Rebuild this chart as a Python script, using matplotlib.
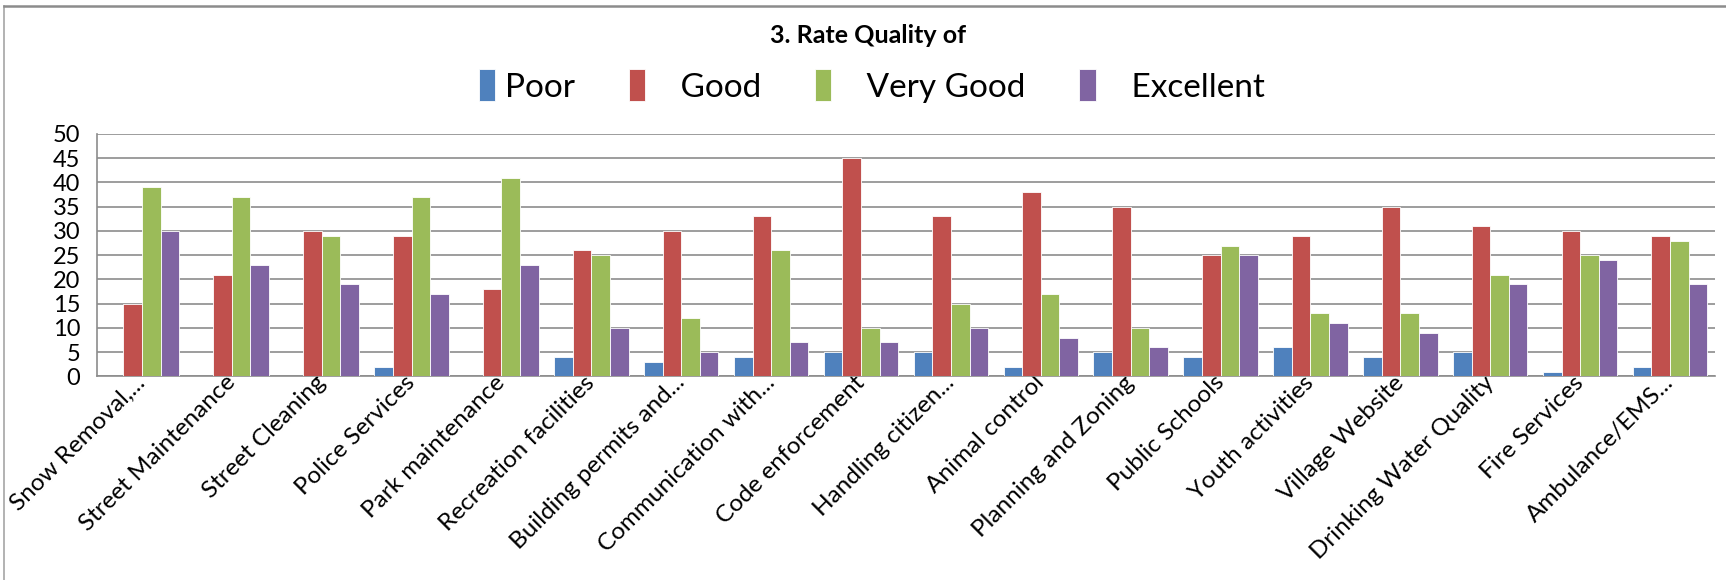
import numpy as np
import matplotlib
matplotlib.use('Agg')
import matplotlib.pyplot as plt
from matplotlib.lines import Line2D

plt.rcParams['font.family'] = ['Lato', 'DejaVu Sans']

# services rated
services = ['Snow Removal,...', 'Street Maintenance', 'Street Cleaning',
            'Police Services', 'Park maintenance', 'Recreation facilities',
            'Building permits and...', 'Communication with...',
            'Code enforcement', 'Handling citizen...', 'Animal control',
            'Planning and Zoning', 'Public Schools', 'Youth activities',
            'Village Website', 'Drinking Water Quality', 'Fire Services',
            'Ambulance/EMS...']

poor = [0, 0, 0, 2, 0, 4, 3, 4, 5, 5, 2, 5, 4, 6, 4, 5, 1, 2]
good = [15, 21, 30, 29, 18, 26, 30, 33, 45, 33, 38, 35, 25, 29, 35, 31, 30, 29]
very_good = [39, 37, 29, 37, 41, 25, 12, 26, 10, 15, 17, 10, 27, 13, 13, 21, 25, 28]
excellent = [30, 23, 19, 17, 23, 10, 5, 7, 7, 10, 8, 6, 25, 11, 9, 19, 24, 19]

series_names = ['Poor', '   Good', '   Very Good', '   Excellent']
series_colors = ['#4F81BD', '#C0504D', '#9BBB59', '#8064A2']
y_ticks = list(range(0, 51, 5))

fig = plt.figure(figsize=(17.26, 5.8), dpi=100)
ax = fig.add_axes([0.0562, 0.351, 0.9374, 0.418])

x = np.arange(len(services))
w = 0.207
for i, (vals, name, col) in enumerate(zip([poor, good, very_good, excellent],
                                          series_names, series_colors)):
    ax.bar(x + (i - 1.5) * w, vals, w, color=col, label=name,
           edgecolor='white', linewidth=0.6, zorder=3)

ax.set_xlim(-0.5, len(services) - 0.5)
ax.set_ylim(0, 50)
ax.set_yticks(y_ticks)
ax.yaxis.grid(True, color='#8C8C8C', linewidth=1.2, zorder=0)
ax.set_axisbelow(True)

for s in ['top', 'right']:
    ax.spines[s].set_visible(False)
ax.spines['left'].set_color('#8C8C8C')
ax.spines['bottom'].set_color('#8C8C8C')
ax.spines['left'].set_linewidth(1.2)
ax.spines['bottom'].set_linewidth(1.2)

ax.set_xticks(x)
ax.set_xticklabels(services, rotation=45, ha='right', va='center',
                   rotation_mode='anchor', fontsize=17.5)
ax.tick_params(axis='x', length=0, pad=2)
ax.tick_params(axis='y', length=0, labelsize=17, pad=12)

fig.text(0.503, 0.938, '3. Rate Quality of', ha='center', va='center',
         fontsize=18, fontweight='bold')

fig.legend(loc='center', bbox_to_anchor=(0.505, 0.852), ncol=4, frameon=False,
           fontsize=24, handlelength=0.5, handleheight=1.1, handletextpad=0.3,
           columnspacing=1.6)

# chart border like the spreadsheet frame
fig.add_artist(Line2D([0.0025, 0.0025], [0.0, 0.99], color='#A6A6A6',
                      linewidth=1.2, transform=fig.transFigure))
fig.add_artist(Line2D([0.0025, 1.0], [0.99, 0.99], color='#8C8C8C',
                      linewidth=1.8, transform=fig.transFigure))

fig.savefig('out.png', dpi=100)
